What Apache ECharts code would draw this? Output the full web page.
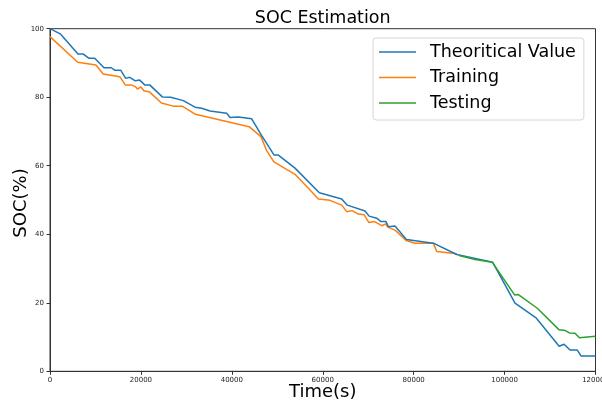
<!DOCTYPE html>
<html>
<head>
<meta charset="utf-8">
<script src="https://cdn.jsdelivr.net/npm/echarts@6/dist/echarts.min.js"></script>
<style>
  html, body { margin: 0; padding: 0; background: #fff; }
  #chart { width: 602px; height: 403px; }
</style>
</head>
<body>
<div id="chart"></div>
<script>
// theoretical SOC curve
let theoryTime = [0, 2350, 6160, 7330, 8510, 9830, 11880, 13490, 14230, 15550, 16650, 17530, 18770, 19730,
    20830, 21930, 24700, 26550, 29330, 31900, 33370, 35200, 38870, 39600, 41430, 44370, 46570, 49300, 50230,
    53900, 59250, 64170, 65400, 69300, 70200, 71870, 72800, 73920, 74430, 75900, 78400, 84330, 89470, 97390,
    102300, 107000, 112000, 113080, 114400, 116010, 116800, 120000];
let theorySoc = [100, 98.4, 92.6, 92.6, 91.4, 91.4, 88.6, 88.6, 87.9, 87.9, 85.5, 85.8, 84.8, 85.0,
    83.6, 83.6, 80.1, 80.0, 79.0, 77.1, 76.8, 76.0, 75.3, 74.1, 74.2, 73.7, 68.8, 63.1, 63.1,
    59.3, 52.1, 50.3, 48.5, 46.8, 45.3, 44.7, 43.7, 43.7, 42.2, 42.4, 38.5, 37.4, 34.1, 31.8,
    19.9, 15.5, 7.3, 7.9, 6.2, 6.2, 4.5, 4.5];

// training estimate
let trainTime = [0, 6100, 10100, 11700, 15350, 16550, 17850, 18770, 19250, 20000, 20650, 21950, 24500, 27100,
    29100, 32000, 43800, 46400, 47670, 49250, 53900, 57200, 59030, 61600, 64170, 65270, 66450, 67830, 69100,
    70150, 71400, 72970, 73800, 74430, 75900, 78320, 80300, 84330, 85070, 89500];
let trainSoc = [97.7, 90.2, 89.4, 86.8, 86.0, 83.6, 83.6, 83.1, 82.4, 83.0, 81.9, 81.5, 78.3, 77.4,
    77.4, 75.0, 71.4, 68.5, 64.4, 61.1, 57.5, 52.9, 50.3, 49.9, 48.5, 46.6, 46.9, 45.9, 45.7,
    43.4, 43.7, 42.5, 43.0, 42.0, 41.2, 38.2, 37.4, 37.4, 35.0, 34.3];

// testing estimate
let testTime = [90000, 93500, 97300, 102200, 103030, 107200, 112000, 113400, 114250, 115500, 116450, 120000];
let testSoc = [33.8, 32.6, 31.8, 22.3, 22.4, 18.4, 12.1, 11.9, 11.2, 11.1, 9.8, 10.2];

let seriesNames = ['Theoritical Value', 'Training', 'Testing'];
let colors = ['#1f77b4', '#ff7f0e', '#2ca02c'];

let zip = function (xs, ys) {
    return xs.map((x, i) => [x, ys[i]]);
};

let font = 'DejaVu Sans';
let myChart = echarts.init(document.getElementById('chart'), null, { renderer: 'canvas' });

let option = {
    animation: false,
    color: colors,
    title: {
        text: 'SOC Estimation',
        left: 322.7,
        textAlign: 'center',
        top: 9,
        padding: 0,
        textStyle: { fontFamily: font, fontSize: 17.5, fontWeight: 'normal', color: '#000' }
    },
    legend: {
        orient: 'vertical',
        left: 373,
        top: 38,
        data: seriesNames,
        icon: 'rect',
        itemWidth: 37,
        itemHeight: 1.5,
        itemGap: 5.5,
        padding: [4, 8, 7, 6],
        backgroundColor: '#fff',
        borderColor: '#d6d6d6',
        borderWidth: 1,
        borderRadius: 3,
        textStyle: { fontFamily: font, fontSize: 17.5, color: '#000', lineHeight: 20, padding: [0, 0, 0, 9] }
    },
    grid: {
        left: 50,
        right: 6.5,
        top: 28.7,
        bottom: 31.7,
        containLabel: false,
        outerBoundsMode: 'none',
        show: true,
        borderColor: '#333',
        borderWidth: 1,
        backgroundColor: '#fff'
    },
    xAxis: {
        type: 'value',
        min: 0,
        max: 120000,
        interval: 20000,
        name: 'Time(s)',
        nameLocation: 'middle',
        nameGap: 12,
        nameMoveOverlap: false,
        nameTextStyle: { fontFamily: font, fontSize: 18, color: '#000' },
        axisLine: { show: true, lineStyle: { color: '#333', width: 1 } },
        axisTick: { show: true, length: 3.5, lineStyle: { color: '#333' } },
        axisLabel: { fontFamily: font, fontSize: 7, color: '#222', margin: 5, formatter: v => String(v) },
        splitLine: { show: false }
    },
    yAxis: {
        type: 'value',
        min: 0,
        max: 100,
        interval: 20,
        name: 'SOC(%)',
        nameLocation: 'middle',
        nameGap: 20,
        nameMoveOverlap: false,
        nameTextStyle: { fontFamily: font, fontSize: 18, color: '#000', padding: [0, 6, 0, 0] },
        axisLine: { show: true, lineStyle: { color: '#333', width: 1 } },
        axisTick: { show: true, length: 3.5, lineStyle: { color: '#333' } },
        axisLabel: { fontFamily: font, fontSize: 7, color: '#222', margin: 6 },
        splitLine: { show: false }
    },
    series: [
        {
            name: seriesNames[0],
            type: 'line',
            data: zip(theoryTime, theorySoc),
            symbol: 'none',
            lineStyle: { width: 1.5, color: colors[0] },
            z: 3
        },
        {
            name: seriesNames[1],
            type: 'line',
            data: zip(trainTime, trainSoc),
            symbol: 'none',
            lineStyle: { width: 1.5, color: colors[1] },
            z: 2
        },
        {
            name: seriesNames[2],
            type: 'line',
            data: zip(testTime, testSoc),
            symbol: 'none',
            lineStyle: { width: 1.5, color: colors[2] },
            z: 4
        }
    ]
};
myChart.setOption(option);
</script>
</body>
</html>
